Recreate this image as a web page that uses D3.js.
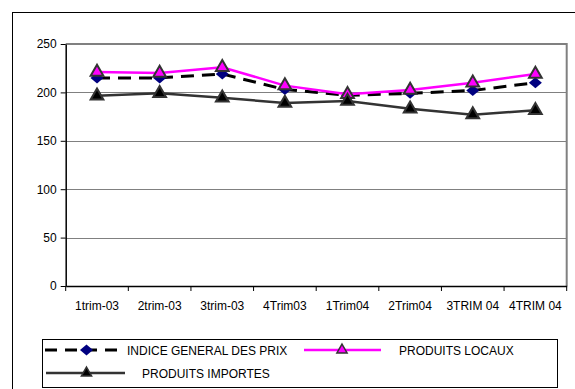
<!DOCTYPE html>
<html><head><meta charset="utf-8">
<script src="https://cdn.jsdelivr.net/npm/d3@7"></script>
<style>body{margin:0;background:#fff}svg{display:block;font-family:"Liberation Sans",Arial,sans-serif}</style>
</head><body>
<svg id="c" width="575" height="389"></svg>
<script>
const categories = ["1trim-03","2trim-03","3trim-03","4Trim03","1Trim04","2Trim04","3TRIM 04","4TRIM 04"];
const indiceGeneral = [215, 215, 219, 203, 197, 199, 202, 210];
const produitsLocaux = [221, 220, 226, 207, 198, 202.5, 210, 219];
const produitsImportes = [196.5, 199, 194.5, 189, 191, 183, 177, 181.5];
const yTicks = [0, 50, 100, 150, 200, 250];
const seriesNames = ["INDICE GENERAL DES PRIX", "PRODUITS LOCAUX", "PRODUITS IMPORTES"];

const svg = d3.select("#c");
const L = 65.7, R = 566.7, T = 44, B = 286;

// outer frame
svg.append("rect").attr("x",12.5).attr("y",12.5).attr("width",600).attr("height",400)
  .attr("fill","none").attr("stroke","#000").attr("stroke-width",1);

const x = d3.scaleBand().domain(categories).range([L, R]).padding(0);
const y = d3.scaleLinear().domain([0, 250]).range([B, T]);
const cx = d => x(d) + x.bandwidth()/2;

// gridlines
svg.append("g").selectAll("line").data(yTicks.filter(v=>v>0)).join("line")
  .attr("x1", L).attr("x2", R).attr("y1", d=>Math.round(y(d))+0.5).attr("y2", d=>Math.round(y(d))+0.5)
  .attr("stroke","#808080").attr("stroke-width",1);
// plot border right/top
svg.append("path").attr("d", `M${L},${T} H${R} V${B}`).attr("fill","none")
  .attr("stroke","#808080").attr("stroke-width",2);

// y axis
const ya = svg.append("g").attr("transform",`translate(${L},0)`)
  .call(d3.axisLeft(y).tickValues(yTicks).tickSize(5).tickPadding(4).tickSizeOuter(0));
ya.select(".domain").attr("stroke","#000").attr("stroke-width",1.5);
ya.selectAll(".tick line").attr("stroke","#000");
ya.selectAll("text").attr("font-size",12).attr("font-family","Liberation Sans, Arial").attr("fill","#000");

// x axis
const xa = svg.append("g").attr("transform",`translate(0,${B})`)
  .call(d3.axisBottom(x).tickSize(0).tickPadding(15).tickSizeOuter(0));
xa.select(".domain").attr("stroke","#000").attr("stroke-width",1.5);
xa.selectAll("text").attr("font-size",12).attr("font-family","Liberation Sans, Arial").attr("fill","#000");
// boundary ticks between categories
svg.append("g").selectAll("line").data(categories.concat(["_end"])).join("line")
  .attr("x1",(d,i)=>L + i*x.step()).attr("x2",(d,i)=>L + i*x.step())
  .attr("y1",B).attr("y2",B+5).attr("stroke","#000").attr("stroke-width",1);

const diamond = "M0,-5.5L6.5,0L0,5.5L-6.5,0Z";
const tri = d3.symbol().type(d3.symbolTriangle).size(70)();

const line = d3.line().x((d,i)=>cx(categories[i])).y(d=>y(d));

// INDICE
svg.append("path").datum(indiceGeneral).attr("d",line).attr("fill","none")
  .attr("stroke","#000").attr("stroke-width",3).attr("stroke-dasharray","13,8");
svg.append("g").selectAll("path").data(indiceGeneral).join("path")
  .attr("d",diamond).attr("transform",(d,i)=>`translate(${cx(categories[i])},${y(d)})`)
  .attr("fill","#000080");

// LOCAUX
svg.append("path").datum(produitsLocaux).attr("d",line).attr("fill","none")
  .attr("stroke","#ff00ff").attr("stroke-width",2.5);
svg.append("g").selectAll("path").data(produitsLocaux).join("path")
  .attr("d",tri).attr("transform",(d,i)=>`translate(${cx(categories[i])},${y(d)})`)
  .attr("fill","#ff00ff").attr("stroke","#333").attr("stroke-width",2);

// IMPORTES
svg.append("path").datum(produitsImportes).attr("d",line).attr("fill","none")
  .attr("stroke","#333").attr("stroke-width",2.5);
svg.append("g").selectAll("path").data(produitsImportes).join("path")
  .attr("d",tri).attr("transform",(d,i)=>`translate(${cx(categories[i])},${y(d)})`)
  .attr("fill","#000").attr("stroke","#333").attr("stroke-width",2);

// legend
const lg = svg.append("g");
lg.append("rect").attr("x",42.5).attr("y",339.5).attr("width",515).attr("height",48)
  .attr("fill","#fff").attr("stroke","#000").attr("stroke-width",1);
const r1 = 350, r2 = 373;
lg.append("line").attr("x1",44).attr("x2",125).attr("y1",r1).attr("y2",r1)
  .attr("stroke","#000").attr("stroke-width",3).attr("stroke-dasharray","12,8").attr("stroke-dashoffset",-1);
lg.append("path").attr("d",diamond).attr("transform",`translate(86.5,${r1})`).attr("fill","#000080");
lg.append("text").attr("x",127).attr("y",r1+4.5).attr("font-size",12).text(seriesNames[0]);

lg.append("line").attr("x1",304).attr("x2",381).attr("y1",r1).attr("y2",r1)
  .attr("stroke","#ff00ff").attr("stroke-width",2.5);
lg.append("path").attr("d",d3.symbol().type(d3.symbolTriangle).size(45)())
  .attr("transform",`translate(342,${r1})`).attr("fill","#ff00ff").attr("stroke","#333").attr("stroke-width",1.5);
lg.append("text").attr("x",399).attr("y",r1+4.5).attr("font-size",12).text(seriesNames[1]);

lg.append("line").attr("x1",46).attr("x2",125).attr("y1",r2).attr("y2",r2)
  .attr("stroke","#333").attr("stroke-width",2.5);
lg.append("path").attr("d",d3.symbol().type(d3.symbolTriangle).size(45)())
  .attr("transform",`translate(86.5,${r2})`).attr("fill","#000").attr("stroke","#333").attr("stroke-width",1.5);
lg.append("text").attr("x",142).attr("y",r2+4.5).attr("font-size",12).text(seriesNames[2]);
</script>
</body></html>
